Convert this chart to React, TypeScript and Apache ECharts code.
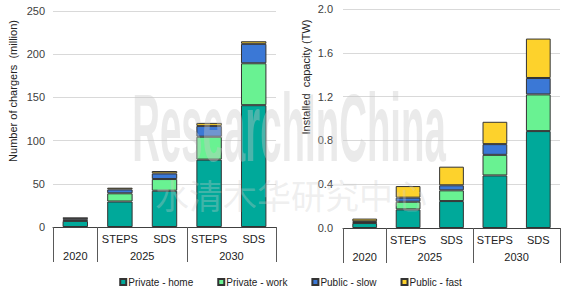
import React, { useEffect, useRef } from "react";
import * as echarts from "echarts";

const categories = ["", "STEPS", "SDS", "STEPS", "SDS"];
const yearLabels = ["2020", "2025", "2030"];
const yearCenters = [0.5, 2, 4];
const yearBounds = [0, 1, 3, 5];
const seriesNames = ["Private - home", "Private - work", "Public - slow", "Public - fast"];
const colors = ["#00A99A", "#69F292", "#3B78D6", "#FDD22C"];

// Number of chargers (million)
const chargersHome = [7, 29.5, 42, 78, 141];
const chargersWork = [1.5, 9.5, 13.5, 26.5, 48.5];
const chargersSlow = [1.5, 4.5, 6.5, 12.5, 22.5];
const chargersFast = [0.7, 2, 2.8, 3.5, 3];

// Installed capacity (TW)
const capHome = [0.045, 0.17, 0.246, 0.48, 0.885];
const capWork = [0.008, 0.07, 0.098, 0.188, 0.335];
const capSlow = [0.008, 0.037, 0.046, 0.098, 0.15];
const capFast = [0.025, 0.106, 0.17, 0.204, 0.36];

const font = "Liberation Sans, Arial, sans-serif";

export default function App() {
  const ref = useRef<HTMLDivElement>(null);
  useEffect(() => {
    if (!ref.current) return;
    const chart = echarts.init(ref.current, undefined, { renderer: "svg" });
    const leftData = [chargersHome, chargersWork, chargersSlow, chargersFast];
    const rightData = [capHome, capWork, capSlow, capFast];
    const mkBar = (name: string, data: number[], i: number, xi: number, yi: number, stack: string) => ({
      type: "bar",
      name,
      data,
      xAxisIndex: xi,
      yAxisIndex: yi,
      stack,
      barWidth: "57%",
      itemStyle: { color: colors[i], borderColor: "#333", borderWidth: 1 },
    });
    const series: any[] = [];
    seriesNames.forEach((n, i) => series.push(mkBar(n, leftData[i], i, 0, 0, "a")));
    seriesNames.forEach((n, i) => series.push(mkBar(n, rightData[i], i, 2, 1, "b")));

    const catAxis = (gi: number) => ({
      type: "category",
      gridIndex: gi,
      data: categories,
      axisLine: { lineStyle: { color: "#404040", width: 1 } },
      axisTick: { show: false },
      axisLabel: { interval: 0, color: "#222", fontSize: 11, fontFamily: font, margin: 6 },
    });
    const yearAxis = (gi: number) => ({
      type: "value",
      gridIndex: gi,
      min: 0,
      max: 5,
      position: "bottom",
      axisLine: { show: false },
      splitLine: { show: false },
      axisTick: {
        show: true,
        customValues: yearBounds,
        length: 35,
        lineStyle: { color: "#595959", width: 1 },
      },
      axisLabel: {
        customValues: yearCenters,
        color: "#222",
        fontSize: 11,
        fontFamily: font,
        margin: 23,
        formatter: (v: number) => {
          const idx = yearCenters.indexOf(v);
          return idx >= 0 ? yearLabels[idx] : "";
        },
      },
    });

    chart.setOption({
      animation: false,
      textStyle: { fontFamily: font },
      grid: [
        { left: 53, width: 223, top: 11, bottom: 67, containLabel: false },
        { left: 343, width: 217, top: 9, bottom: 66, containLabel: false },
      ],
      xAxis: [catAxis(0), yearAxis(0), catAxis(1), yearAxis(1)],
      yAxis: [
        {
          type: "value",
          gridIndex: 0,
          min: 0,
          max: 250,
          interval: 50,
          axisLine: { show: false },
          axisTick: { show: false },
          splitLine: { lineStyle: { color: "#d9d9d9", width: 1 } },
          axisLabel: { color: "#404040", fontSize: 11, fontFamily: font, margin: 8 },
        },
        {
          type: "value",
          gridIndex: 1,
          min: 0,
          max: 2,
          interval: 0.4,
          axisLine: { show: false },
          axisTick: { show: false },
          splitLine: { lineStyle: { color: "#d9d9d9", width: 1 } },
          axisLabel: {
            color: "#404040",
            fontSize: 11,
            fontFamily: font,
            margin: 10,
            formatter: (v: number) => v.toFixed(1),
          },
        },
      ],
      legend: {
        data: seriesNames,
        bottom: 2,
        left: "center",
        icon: "rect",
        itemWidth: 6,
        itemHeight: 6,
        itemGap: 24,
        textStyle: { fontSize: 10, color: "#222", fontFamily: font, padding: [0, 0, 0, -3] },
      },
      series,
      graphic: [
        {
          type: "text",
          x: 13,
          y: 91,
          rotation: Math.PI / 2,
          style: {
            text: "Number of chargers  (million)",
            fontSize: 11,
            fontFamily: font,
            fill: "#222",
            align: "center",
            verticalAlign: "middle",
          },
        },
        {
          type: "text",
          x: 306,
          y: 77,
          rotation: Math.PI / 2,
          style: {
            text: "Installed  capacity (TW)",
            fontSize: 11,
            fontFamily: font,
            fill: "#222",
            align: "center",
            verticalAlign: "middle",
          },
        },
        {
          type: "text",
          x: 289,
          y: 128,
          scaleX: 0.4,
          z: 100,
          silent: true,
          style: {
            text: "ResearchInChina",
            fontSize: 96,
            fontWeight: "bold",
            fontFamily: font,
            fill: "rgba(200,200,200,0.38)",
            align: "center",
            verticalAlign: "middle",
          },
        },
        {
          type: "text",
          x: 291,
          y: 194,
          z: 100,
          silent: true,
          style: {
            text: "水清木华研究中心",
            fontSize: 34,
            fontFamily: "Noto Sans CJK SC",
            fill: "rgba(205,205,205,0.32)",
            align: "center",
            verticalAlign: "middle",
          },
        },
      ],
    });
    return () => chart.dispose();
  }, []);
  return (
    <div
      ref={ref}
      style={{ position: "fixed", left: 0, top: 0, width: 581, height: 294, background: "#fff" }}
    />
  );
}
